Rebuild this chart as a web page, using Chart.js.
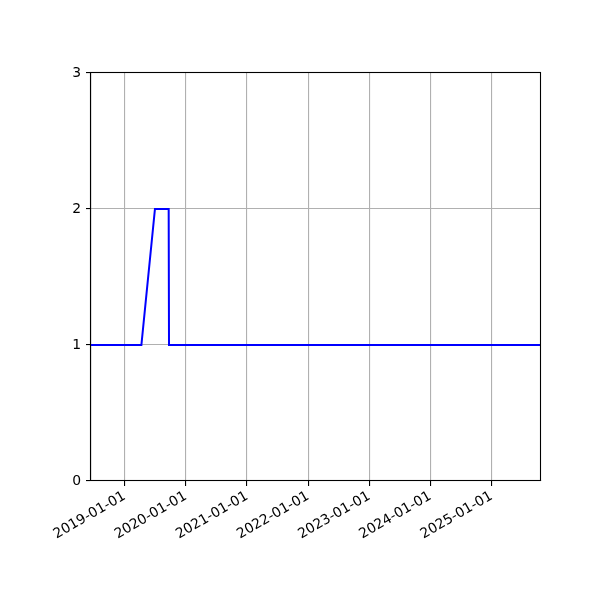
<!DOCTYPE html>
<html lang="en">
<head>
  <meta charset="UTF-8">
  <title>Line chart</title>
  <script src="https://cdn.jsdelivr.net/npm/chart.js"></script>
  <style>
    body {
      margin: 0;
      background: white;
    }

    #chart {
      display: block;
    }
  </style>
</head>
<body>
  <canvas id="chart" width="600" height="600"></canvas>

  <script>
    // values
    const pointDates = ['2018-06-14', '2019-04-11', '2019-07-01', '2019-09-21', '2019-09-23', '2025-10-23'];
    const pointValues = [1, 1, 2, 2, 1, 1];
    const yearTicks = ['2019-01-01', '2020-01-01', '2021-01-01', '2022-01-01', '2023-01-01', '2024-01-01', '2025-01-01'];
    const valueTicks = [0, 1, 2, 3];

    const points = pointDates.map((d, i) => ({ x: Date.parse(d), y: pointValues[i] }));

    const tickFont = { family: 'DejaVu Sans', size: 13.9 };

    // matplotlib style box round the plot
    const frame = {
      id: 'frame',
      afterDraw(chart) {
        const a = chart.chartArea;
        const ctx = chart.ctx;
        ctx.save();
        ctx.strokeStyle = '#000';
        ctx.lineWidth = 1.1;
        ctx.strokeRect(a.left - 0.5, a.top - 0.5, a.right - a.left, a.bottom - a.top);
        ctx.restore();
      }
    };

    new Chart(document.getElementById('chart'), {
      type: 'line',
      data: {
        datasets: [{
          data: points,
          borderColor: '#0000ff',
          borderWidth: 2,
          pointRadius: 0,
          tension: 0,
          fill: false
        }]
      },
      options: {
        responsive: false,
        animation: false,
        devicePixelRatio: 1,
        layout: {
          padding: { top: 73, right: 59, left: 1, bottom: 0 }
        },
        plugins: {
          legend: { display: false },
          tooltip: { enabled: false }
        },
        scales: {
          x: {
            type: 'linear',
            min: points[0].x,
            max: points[points.length - 1].x,
            afterBuildTicks(scale) {
              scale.ticks = yearTicks.map(d => ({ value: Date.parse(d) }));
            },
            afterFit(scale) {
              scale.height = 119;
            },
            grid: {
              color: '#b0b0b0',
              lineWidth: 1.1,
              tickColor: '#000',
              tickLength: 5
            },
            border: { color: '#000', width: 1.1 },
            ticks: {
              autoSkip: false,
              minRotation: 30,
              maxRotation: 30,
              padding: 2,
              color: '#000',
              font: tickFont,
              callback: value => new Date(value).toISOString().slice(0, 10)
            }
          },
          y: {
            min: 0,
            max: 3,
            afterBuildTicks(scale) {
              scale.ticks = valueTicks.map(v => ({ value: v }));
            },
            afterFit(scale) {
              scale.width = 90;
            },
            grid: {
              color: '#b0b0b0',
              lineWidth: 1.1,
              tickColor: '#000',
              tickLength: 5
            },
            border: { color: '#000', width: 1.1 },
            ticks: {
              padding: 5,
              color: '#000',
              font: tickFont
            }
          }
        }
      },
      plugins: [frame]
    });
  </script>
</body>
</html>
